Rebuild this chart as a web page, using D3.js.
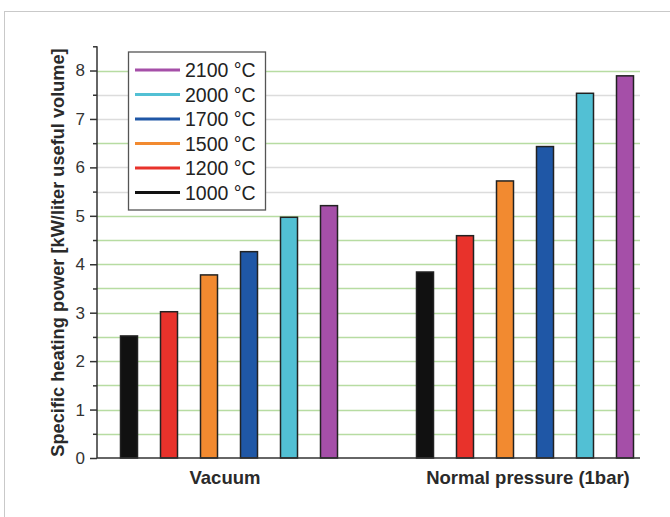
<!DOCTYPE html>
<html>
<head>
<meta charset="utf-8">
<script src="https://cdn.jsdelivr.net/npm/d3@7"></script>
<style>
  html, body { margin: 0; padding: 0; background: #fff; }
  svg { display: block; font-family: "Liberation Sans", Arial, sans-serif; }
</style>
</head>
<body>
<svg id="chart" width="670" height="517"></svg>
<script>
// ---- data ----
const groups = ["Vacuum", "Normal pressure (1bar)"];
const temperatures = ["1000 °C", "1200 °C", "1500 °C", "1700 °C", "2000 °C", "2100 °C"];
const vacuumValues = [2.52, 3.02, 3.78, 4.26, 4.97, 5.21];
const normalValues = [3.84, 4.59, 5.72, 6.43, 7.53, 7.89];
const yTicks = [0, 1, 2, 3, 4, 5, 6, 7, 8];
const yTitle = "Specific heating power [kW/liter useful volume]";

const colors = ["#111111", "#e8322b", "#f28a30", "#1f57a6", "#52c0d4", "#a54fa8"];
const seriesByGroup = [vacuumValues, normalValues];

const svg = d3.select("#chart");

// outer frame
svg.append("rect").attr("x", 4.5).attr("y", 11.5).attr("width", 700).attr("height", 600)
  .attr("fill", "none").attr("stroke", "#c9c9c9").attr("stroke-width", 1);

const xLeft = 97, xRight = 640;
const y = d3.scaleLinear().domain([0, 8.5]).range([458, 46.3]);
const x0 = d3.scaleBand().domain(groups).range([81, 673]);
const x1 = d3.scaleBand().domain(temperatures).range([-108.5, 108.5]).paddingInner(0.575).paddingOuter(0);

// gridlines every 0.5
const gridVals = d3.range(1, 17).map(i => i * 0.5);
const grayLines = [5.5, 6, 7, 7.5];
svg.append("g").selectAll("line").data(gridVals).join("line")
  .attr("x1", xLeft).attr("x2", xRight)
  .attr("y1", d => Math.round(y(d)) + 0.5).attr("y2", d => Math.round(y(d)) + 0.5)
  .attr("stroke", d => grayLines.includes(d) ? "#dcdcdc" : "#b7dca2")
  .attr("stroke-width", 1.3);

// bars
const gGroups = svg.append("g").selectAll("g").data(groups).join("g")
  .attr("transform", d => `translate(${x0(d) + x0.bandwidth() / 2},0)`);
gGroups.selectAll("rect")
  .data((g, gi) => temperatures.map((t, i) => ({ t, i, v: seriesByGroup[gi][i] })))
  .join("rect")
  .attr("x", d => x1(d.t))
  .attr("width", x1.bandwidth())
  .attr("y", d => y(d.v))
  .attr("height", d => y(0) - y(d.v))
  .attr("fill", d => colors[d.i])
  .attr("stroke", "#222")
  .attr("stroke-width", 1.5);

// y axis
const yAxis = d3.axisLeft(y).tickValues(yTicks).tickFormat(d3.format("d")).tickSize(7).tickPadding(5);
const ga = svg.append("g").attr("transform", `translate(${xLeft},0)`).call(yAxis);
ga.select(".domain").attr("stroke", "#333").attr("stroke-width", 1.5).attr("d", `M0,${y(8.5)}V${y(0)}`);
ga.selectAll(".tick line").attr("stroke", "#333").attr("stroke-width", 1.5);
ga.selectAll(".tick text").attr("font-size", 17).attr("fill", "#333").attr("font-family", "Liberation Sans, Arial, sans-serif");
// minor ticks
const minorAxis = d3.axisLeft(y).tickValues(d3.range(0, 9).map(i => i + 0.5)).tickFormat("").tickSize(4);
const gm = svg.append("g").attr("transform", `translate(${xLeft},0)`).call(minorAxis);
gm.select(".domain").remove();
gm.selectAll(".tick line").attr("stroke", "#333").attr("stroke-width", 1.5);

// x axis line
svg.append("line").attr("x1", xLeft).attr("x2", xRight).attr("y1", y(0)).attr("y2", y(0))
  .attr("stroke", "#333").attr("stroke-width", 1.5);

// x group labels
svg.append("g").selectAll("text").data(groups).join("text")
  .attr("x", d => x0(d) + x0.bandwidth() / 2 + (d === groups[0] ? -4 : 3))
  .attr("y", 484)
  .attr("text-anchor", "middle")
  .attr("font-size", 18.5).attr("font-weight", "bold").attr("fill", "#2a2a2a")
  .text(d => d);

// y title
svg.append("text")
  .attr("transform", `translate(64,${(46 + 459) / 2}) rotate(-90)`)
  .attr("text-anchor", "middle")
  .attr("font-size", 18.2).attr("font-weight", "bold").attr("fill", "#2a2a2a")
  .text(yTitle);

// legend
const legend = svg.append("g");
legend.append("rect").attr("x", 128.5).attr("y", 52).attr("width", 137).attr("height", 158)
  .attr("fill", "#fff").attr("stroke", "#555").attr("stroke-width", 1.3);
const legendOrder = temperatures.map((t, i) => i).reverse();
const rows = legend.selectAll("g.row").data(legendOrder).join("g")
  .attr("class", "row")
  .attr("transform", (d, k) => `translate(0,${70 + k * 24.5})`);
rows.append("line").attr("x1", 135).attr("x2", 180).attr("y1", 0).attr("y2", 0)
  .attr("stroke", d => colors[d]).attr("stroke-width", 3);
rows.append("text").attr("x", 185).attr("y", 7).attr("font-size", 19.5).attr("fill", "#222")
  .text(d => temperatures[d]);
</script>
</body>
</html>
